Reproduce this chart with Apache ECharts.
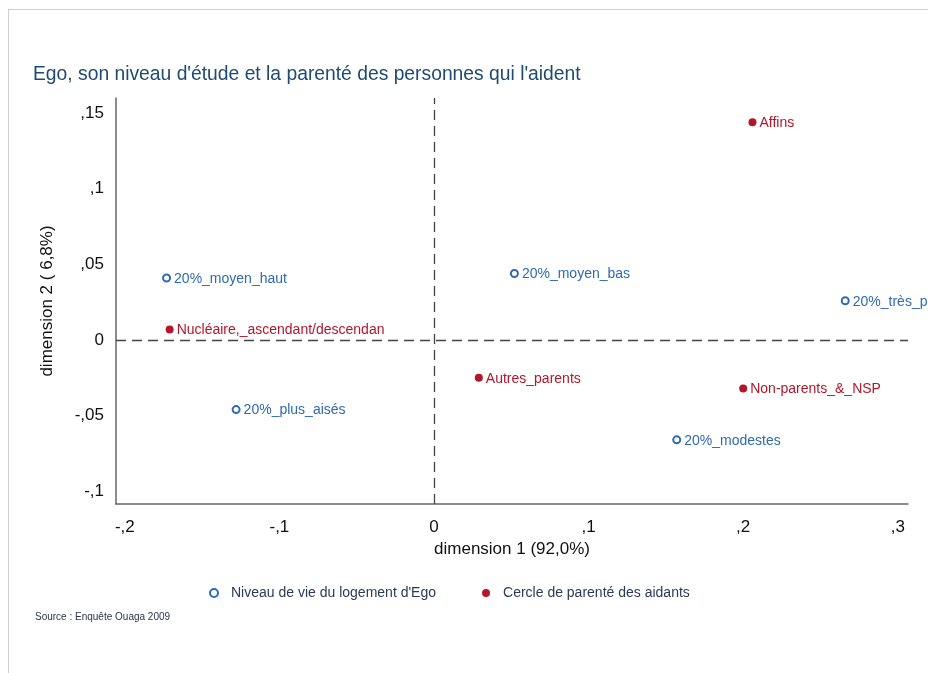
<!DOCTYPE html>
<html>
<head>
<meta charset="utf-8">
<script src="https://cdn.jsdelivr.net/npm/echarts@6/dist/echarts.min.js"></script>
<style>
html,body{margin:0;padding:0;background:#fff;}
#c{width:928px;height:673px;}
</style>
</head>
<body>
<div id="c"></div>
<script>
// Data
const niveauNames = ['20%_moyen_haut', '20%_moyen_bas', '20%_très_pauvres', '20%_plus_aisés', '20%_modestes'];
const niveauDim1  = [-0.173, 0.052, 0.266, -0.128, 0.157];
const niveauDim2  = [0.041, 0.044, 0.026, -0.046, -0.066];

const cercleNames = ['Affins', 'Nucléaire,_ascendant/descendan', 'Autres_parents', 'Non-parents_&_NSP'];
const cercleDim1  = [0.206, -0.171, 0.029, 0.200];
const cercleDim2  = [0.144, 0.007, -0.025, -0.032];

const xTicks = [-0.2, -0.1, 0, 0.1, 0.2, 0.3];
const yTicks = [-0.1, -0.05, 0, 0.05, 0.1, 0.15];

const seriesNames = ["Niveau de vie du logement d'Ego", 'Cercle de parenté des aidants'];

function fmt(v) {
  if (Math.abs(v) < 1e-9) return '0';
  const s = Math.abs(v).toFixed(2).replace(/0+$/, '').split('.')[1];
  return (v < 0 ? '-' : '') + ',' + s;
}

function build(names, xs, ys) {
  return names.map((n, i) => ({ name: n, value: [xs[i], ys[i]] }));
}

const FONT = '"Liberation Sans", Arial, Helvetica, sans-serif';
const BLUE = '#2f6ab3';
const RED = '#b3162a';

const chart = echarts.init(document.getElementById('c'), null, { renderer: 'canvas' });
chart.setOption({
  animation: false,
  backgroundColor: '#fff',
  textStyle: { fontFamily: FONT },
  title: {
    text: "Ego, son niveau d'étude et la parenté des personnes qui l'aident",
    left: 28, top: 60,
    textStyle: { fontFamily: FONT, fontSize: 19.3, fontWeight: 'normal', color: '#1f4a72' }
  },
  graphic: [
    { type: 'line', shape: { x1: 8, y1: 9.5, x2: 928, y2: 9.5 }, style: { stroke: '#cfcfcf', lineWidth: 1 } },
    { type: 'line', shape: { x1: 8.5, y1: 9, x2: 8.5, y2: 673 }, style: { stroke: '#cfcfcf', lineWidth: 1 } },
    { type: 'text', left: 35, top: 612, style: { text: 'Source : Enquête Ouaga 2009', font: '10px ' + FONT, fill: '#2a3550' } }
  ],
  legend: {
    left: 204, top: 581,
    itemWidth: 8, itemHeight: 8, itemGap: 46,
    textStyle: { fontFamily: FONT, fontSize: 14, color: '#2a3a58', padding: [0, 0, 0, 8] },
    data: [
      { name: seriesNames[0], icon: 'emptyCircle' },
      { name: seriesNames[1], icon: 'circle' }
    ]
  },
  grid: { left: 116, right: 20, top: 98, bottom: 673 - 504, containLabel: false },
  xAxis: {
    type: 'value', min: -0.2057, max: 0.3066,
    name: 'dimension 1 (92,0%)', nameLocation: 'middle', nameGap: 37,
    nameTextStyle: { fontFamily: FONT, fontSize: 17, color: '#111' },
    axisLine: { show: true, onZero: false, lineStyle: { color: '#666', width: 1.5 } },
    axisTick: { show: false },
    splitLine: { show: false },
    axisLabel: { customValues: xTicks, formatter: fmt, fontFamily: FONT, fontSize: 17, color: '#111', margin: 15 }
  },
  yAxis: {
    type: 'value', min: -0.1084, max: 0.16,
    name: 'dimension 2 ( 6,8%)', nameLocation: 'middle', nameGap: 60, nameRotate: 90,
    nameTextStyle: { fontFamily: FONT, fontSize: 17, color: '#111' },
    axisLine: { show: true, onZero: false, lineStyle: { color: '#666', width: 1.5 } },
    axisTick: { show: false },
    splitLine: { show: false },
    axisLabel: { customValues: yTicks, formatter: fmt, fontFamily: FONT, fontSize: 17, color: '#111', margin: 12 }
  },
  series: [
    {
      name: seriesNames[0], type: 'scatter', symbol: 'emptyCircle', symbolSize: 7,
      itemStyle: { color: BLUE, borderColor: BLUE, borderWidth: 0.9, opacity: 1 },
      label: { show: true, position: 'right', distance: 3, offset: [0, 1], formatter: '{b}', color: BLUE, fontFamily: FONT, fontSize: 14 },
      data: build(niveauNames, niveauDim1, niveauDim2),
      markLine: {
        silent: true, symbol: 'none', label: { show: false },
        lineStyle: { color: '#444', width: 1.3, type: [10, 6] },
        data: [{ xAxis: 0 }, { yAxis: 0 }]
      }
    },
    {
      name: seriesNames[1], type: 'scatter', symbol: 'circle', symbolSize: 8,
      itemStyle: { color: RED, opacity: 1 },
      label: { show: true, position: 'right', distance: 3, offset: [0, 1], formatter: '{b}', color: RED, fontFamily: FONT, fontSize: 14 },
      data: build(cercleNames, cercleDim1, cercleDim2)
    }
  ]
});
</script>
</body>
</html>
